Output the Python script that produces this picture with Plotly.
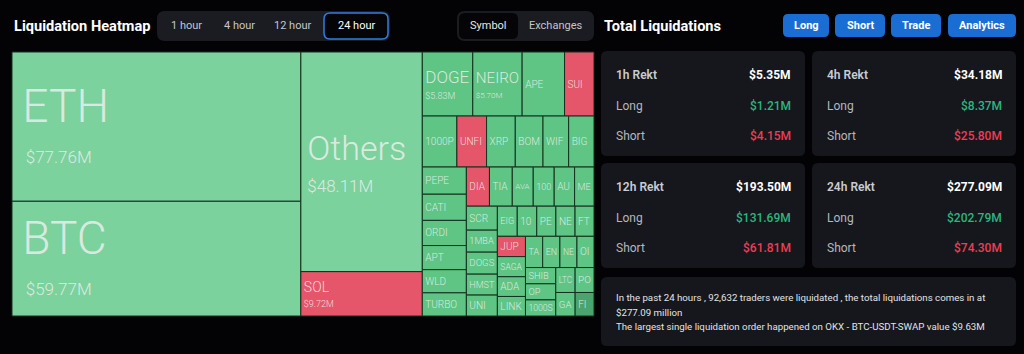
import plotly.graph_objects as go

W, H = 1024, 354

# ---------------- data ----------------
coins = ["ETH", "BTC", "Others", "SOL", "DOGE", "NEIRO", "APE", "SUI",
         "1000P", "UNFI", "XRP", "BOM", "WIF", "BIG",
         "PEPE", "CATI", "ORDI", "APT", "WLD", "TURBO",
         "DIA", "TIA", "AVA", "100", "AU", "ME",
         "SCR", "1MBA", "DOGS", "HMST", "UNI",
         "EIG", "10", "PE", "NE", "FT",
         "JUP", "SAGA", "ADA", "LINK",
         "TA", "EN", "NE", "OI",
         "SHIB", "OP", "1000S",
         "LTC", "PO", "GA", "FI"]
values_musd = [77.76, 59.77, 48.11, 9.72, 5.83, 5.70, 4.90, 3.40,
               3.18, 2.73, 2.64, 2.55, 2.36, 2.33,
               2.16, 2.08, 2.00, 1.92, 1.84, 1.84,
               1.63, 1.61, 1.48, 1.48, 1.44, 1.37,
               1.34, 1.23, 1.23, 1.17, 1.17,
               1.08, 1.06, 1.04, 1.04, 1.03,
               1.03, 1.02, 1.00, 0.99,
               0.97, 0.97, 0.96, 0.96,
               0.89, 0.88, 0.88,
               0.87, 0.85, 0.82, 0.80]
dominant_side = ["long", "long", "long", "short", "long", "long", "long", "short",
                 "long", "short", "long", "long", "long", "long",
                 "long", "long", "long", "long", "long", "long",
                 "short", "long", "long", "long", "long", "long",
                 "long", "long", "long", "long", "long",
                 "long", "long", "long", "long", "long",
                 "short", "long", "long", "long",
                 "long", "long", "long", "long",
                 "long", "long", "long",
                 "long", "long", "long", "long+"]

periods = ["1h", "4h", "12h", "24h"]
total_rekt = [5.35, 34.18, 193.50, 277.09]
long_rekt = [1.21, 8.37, 131.69, 202.79]
short_rekt = [4.15, 25.80, 61.81, 74.30]

time_tabs = ["1 hour", "4 hour", "12 hour", "24 hour"]
view_tabs = ["Symbol", "Exchanges"]
action_buttons = ["Long", "Short", "Trade", "Analytics"]

traders_liquidated = 92632
total_24h_musd = 277.09
largest_exchange = "OKX"
largest_symbol = "BTC-USDT-SWAP"
largest_value_musd = 9.63

# ---------------- helpers ----------------
def X(px):
    return px / W

def Y(py):
    return 1 - py / H

def rrect(x0, y0, x1, y1, r, fill, line=None, lw=0):
    path = (f"M {X(x0 + r)} {Y(y0)} L {X(x1 - r)} {Y(y0)} Q {X(x1)} {Y(y0)} {X(x1)} {Y(y0 + r)} "
            f"L {X(x1)} {Y(y1 - r)} Q {X(x1)} {Y(y1)} {X(x1 - r)} {Y(y1)} "
            f"L {X(x0 + r)} {Y(y1)} Q {X(x0)} {Y(y1)} {X(x0)} {Y(y1 - r)} "
            f"L {X(x0)} {Y(y0 + r)} Q {X(x0)} {Y(y0)} {X(x0 + r)} {Y(y0)} Z")
    return dict(type="path", xref="paper", yref="paper", path=path, fillcolor=fill,
                line=dict(color=line if line else fill, width=lw), layer="below")

annotations = []

def txt(x, y, s, size, color, weight=400, anchor="left", family="Roboto"):
    annotations.append(dict(x=X(x), y=Y(y), xref="paper", yref="paper", text=s, showarrow=False,
                            xanchor=anchor, yanchor="middle",
                            font=dict(size=size, color=color, family=family, weight=weight)))

# ---------------- treemap ----------------
colour_of = {"long": "#5ec585", "short": "#e6566a", "long+": "#4ba46d"}
NB = "\u00a0"
tile_colours = []
texts = []
base_sizes = []
for name, v, side in zip(coins, values_musd, dominant_side):
    c = colour_of[side]
    if side == "long" and v > 20:
        c = "#7bd29d"
    tile_colours.append(c)
    if v > 50:
        ls, vs, bs, lp, vp = 46, 17, 32, 30, 44
    elif v > 20:
        ls, vs, bs, lp, vp = 34, 17, 25, 14, 14
    elif v > 7:
        ls, vs, bs, lp, vp = 14, 9, 11.5, 0, 0
    elif v > 5:
        ls, vs, bs, lp, vp = 17, 9, 13, 0, 0
    else:
        ls, vs, bs, lp, vp = 10, 0, 10, 0, 0
    if vs:
        pad_l = f"<span style='font-size:{lp}px'>{NB}</span>" if lp else ""
        pad_v = f"<span style='font-size:{vp}px'>{NB}</span>" if vp else ""
        texts.append(f"{pad_l}<span style='font-size:{ls}px'>{name}</span><br>"
                     f"{pad_v}<span style='font-size:{vs}px'>${v:.2f}M</span>")
    else:
        texts.append(name)
    base_sizes.append(bs)

fig = go.Figure()
fig.add_trace(go.Treemap(
    ids=[f"{c}-{i}" for i, c in enumerate(coins)],
    labels=coins,
    parents=[""] * len(coins),
    values=values_musd,
    text=texts,
    texttemplate="%{text}",
    textposition="middle left",
    textfont=dict(family="Roboto", size=base_sizes, color="rgba(232,237,233,0.9)", weight=300),
    marker=dict(colors=tile_colours, line=dict(color="#15301f", width=1),
                pad=dict(t=0, l=0, r=0, b=0)),
    tiling=dict(packing="squarify", squarifyratio=1.618034, pad=0),
    sort=True,
    pathbar=dict(visible=False),
    root=dict(color="#030306"),
    domain=dict(x=[X(12), X(594)], y=[Y(316), Y(52)]),
    hoverinfo="skip",
))

shapes = []
# ---------------- header left ----------------
txt(12, 26, "Liquidation Heatmap", 14.6, "#ffffff", 700)
shapes.append(rrect(157, 11, 390, 41, 8, "#1b1c21"))
shapes.append(rrect(324, 13, 388, 39, 6, "#050507", "#2f7de1", 1.5))
tab_centres = [186, 239, 292, 356]
for t, cx in zip(time_tabs, tab_centres):
    txt(cx, 26, t, 11, "#ffffff" if t == "24 hour" else "#c4c6cc", 400, "center")
shapes.append(rrect(457, 11, 594, 41, 8, "#1b1c21"))
shapes.append(rrect(459, 13, 518, 39, 6, "#050507"))
for t, cx in zip(view_tabs, [488, 555]):
    txt(cx, 26, t, 11, "#e6e7ea" if t == "Symbol" else "#c4c6cc", 400, "center")

# ---------------- header right ----------------
txt(602, 26, "Total Liquidations", 14.6, "#ffffff", 700)
btn_x = [(783, 829), (835, 885), (891, 941), (948, 1016)]
for label, (bx0, bx1) in zip(action_buttons, btn_x):
    shapes.append(rrect(bx0, 14, bx1, 37, 5, "#1a6dd3"))
    txt((bx0 + bx1) / 2, 25.5, label, 11, "#ffffff", 700, "center")

# ---------------- cards ----------------
card_boxes = [(601, 51, 805, 156), (812, 51, 1016, 156), (601, 163, 805, 268), (812, 163, 1016, 268)]
for p, tot, lg, sh, (cx0, cy0, cx1, cy1) in zip(periods, total_rekt, long_rekt, short_rekt, card_boxes):
    shapes.append(rrect(cx0, cy0, cx1, cy1, 6, "#16171c"))
    lx, rx = cx0 + 13, cx1 - 12
    txt(lx, cy0 + 24, f"{p} Rekt", 12, "#c9ccd2", 600)
    txt(rx, cy0 + 24, f"${tot:.2f}M", 12, "#ffffff", 700, "right")
    txt(lx, cy0 + 55, "Long", 12, "#b4b7be", 400)
    txt(rx, cy0 + 55, f"${lg:.2f}M", 12, "#2bb57f", 500, "right")
    txt(lx, cy0 + 85, "Short", 12, "#b4b7be", 400)
    txt(rx, cy0 + 85, f"${sh:.2f}M", 12, "#ee3d55", 500, "right")

shapes.append(rrect(601, 277, 1016, 346, 6, "#16171c"))
info_lines = [
    f"In the past 24 hours , {traders_liquidated:,} traders were liquidated , the total liquidations comes in at",
    f"${total_24h_musd:.2f} million",
    f"The largest single liquidation order happened on {largest_exchange} - {largest_symbol} value ${largest_value_musd:.2f}M",
]
for line, ly in zip(info_lines, [297, 312, 326]):
    txt(614, ly, line, 9.7, "#e2e3e6", 400, "left", "Roboto")

fig.update_layout(
    width=W, height=H,
    margin=dict(l=0, r=0, t=0, b=0),
    paper_bgcolor="#030306",
    plot_bgcolor="#030306",
    shapes=shapes,
    annotations=annotations,
    showlegend=False,
)

fig.write_html("out.html")
